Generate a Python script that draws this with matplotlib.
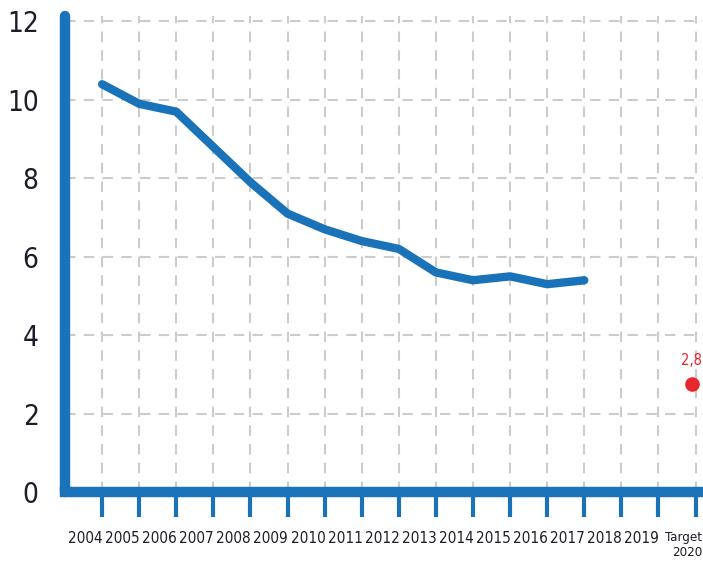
import matplotlib
matplotlib.use('Agg')
import matplotlib.pyplot as plt
from matplotlib.ticker import FixedLocator

years = [2004, 2005, 2006, 2007, 2008, 2009, 2010, 2011, 2012, 2013, 2014, 2015, 2016, 2017]
values = [10.4, 9.9, 9.7, 8.8, 7.9, 7.1, 6.7, 6.4, 6.2, 5.6, 5.4, 5.5, 5.3, 5.4]
target_year = 2020
target_value = 2.75
target_label = '2,8'
tick_years = list(range(2004, 2021))
tick_labels = [str(y) for y in range(2004, 2020)] + ['Target\n2020']
y_ticks = [0, 2, 4, 6, 8, 10, 12]

blue = '#1a73b9'
red = '#e8262b'
plt.rcParams['font.family'] = ['DejaVu Sans']
plt.rcParams['font.stretch'] = 'condensed'

fig = plt.figure(figsize=(7.03, 5.67), dpi=100)
ax = fig.add_axes([65 / 703, 75 / 567, 1 - 65 / 703, (492 - 16) / 567])

ax.plot(years, values, color=blue, lw=6, solid_capstyle='round', zorder=3)
ax.scatter([target_year - 0.1], [target_value], s=90, color=red, zorder=3)
ax.annotate(target_label, (target_year - 0.1, target_value), xytext=(0, 12),
            textcoords='offset points', ha='center', va='bottom',
            color=red, fontsize=10.5, fontstretch='condensed')

ax.set_xlim(2003.0, 2020.2)
ax.set_ylim(0, 12.14)

ax.set_yticks(y_ticks)
ax.set_yticklabels([str(v) for v in y_ticks], fontsize=20, color='#1c1c2a',
                   fontstretch='condensed')
ax.tick_params(axis='y', length=0, pad=19)

# ticks on years, labels shifted left into slots (target label sits right of its tick)
label_pos = [y - 0.45 for y in tick_years[:-1]] + [tick_years[-1] - 0.32]
ax.xaxis.set_major_locator(FixedLocator(tick_years))
ax.xaxis.set_minor_locator(FixedLocator(label_pos))
ax.set_xticklabels([''] * len(tick_years))
ax.set_xticklabels(tick_labels, minor=True, fontstretch='condensed')
ax.tick_params(axis='x', which='major', length=18, width=3, color=blue, direction='out')
ax.tick_params(axis='x', which='minor', length=0, pad=28, labelsize=11, labelcolor='#1c1c2a')
for lab in ax.get_xticklabels(minor=True):
    lab.set_va('top')
last = ax.get_xticklabels(minor=True)[-1]
last.set_fontsize(9.5)
last.set_linespacing(1.25)
last.set_multialignment('right')

ax.grid(True, which='major', color='#cccccc', lw=1.5, ls=(0, (5, 4)), zorder=0)

for side in ['top', 'right']:
    ax.spines[side].set_visible(False)
ax.spines['left'].set_color(blue)
ax.spines['left'].set_linewidth(7.5)
ax.spines['bottom'].set_color(blue)
ax.spines['bottom'].set_linewidth(7.5)
ax.spines['left'].set_capstyle('round')

fig.savefig('out.png', dpi=100)
